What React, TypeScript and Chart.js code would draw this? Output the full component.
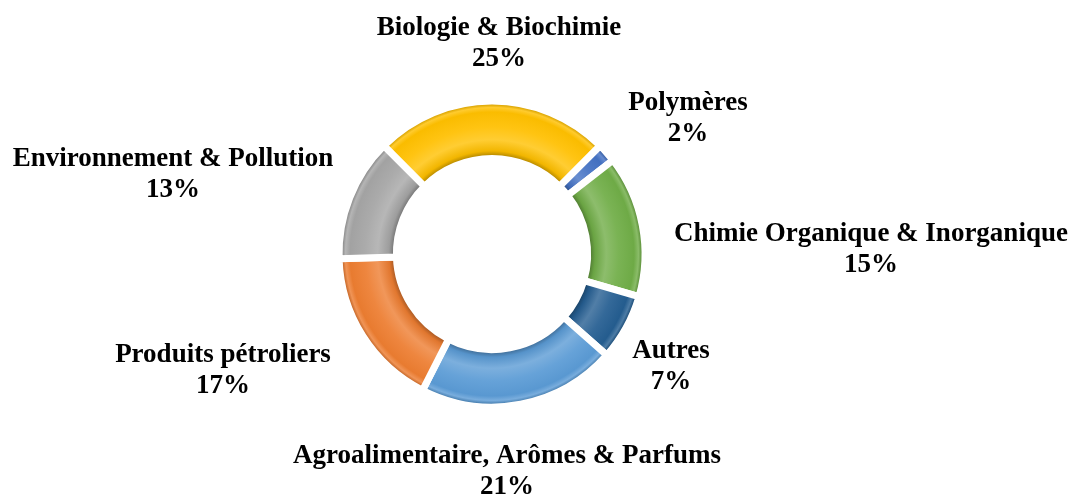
import React, { useEffect, useRef } from "react";
import { Chart, registerables } from "chart.js";

Chart.register(...registerables);

// ---- Data ----
const CATEGORIES = [
  "Biologie & Biochimie",
  "Polymères",
  "Chimie Organique & Inorganique",
  "Autres",
  "Agroalimentaire, Arômes & Parfums",
  "Produits pétroliers",
  "Environnement & Pollution",
];
const VALUES = [25, 2, 15, 7, 21, 17, 13];
const COLORS = ["#FFC000", "#4472C4", "#70AD47", "#255E91", "#5B9BD5", "#ED7D31", "#A5A5A5"];

// ---- Label layout (offsets from the doughnut centre, px) ----
const LABEL_OFFSETS: [number, number][] = [
  [7, -219],
  [196, -144],
  [379, -13],
  [179, 104],
  [15, 209],
  [-269, 108],
  [-319, -88],
];

const GAP = 7;

function hexToRgb(hex: string) {
  const n = parseInt(hex.slice(1), 16);
  return [(n >> 16) & 255, (n >> 8) & 255, n & 255];
}
function shade(hex: string, amt: number) {
  const [r, g, b] = hexToRgb(hex);
  const f = (c: number) =>
    Math.round(amt >= 0 ? c + (255 - c) * amt : c * (1 + amt));
  return `rgb(${f(r)},${f(g)},${f(b)})`;
}

const labelPlugin = {
  id: "outsideLabels",
  afterDraw(chart: any) {
    const meta = chart.getDatasetMeta(0);
    const ctx = chart.ctx;
    const first = meta.data[0];
    if (!first) return;
    const cx = first.x;
    const cy = first.y;
    ctx.save();
    ctx.fillStyle = "#000";
    ctx.font = 'bold 27px "Liberation Serif", "Times New Roman", serif';
    ctx.textAlign = "center";
    ctx.textBaseline = "alphabetic";
    CATEGORIES.forEach((cat, i) => {
      const [dx, dy] = LABEL_OFFSETS[i];
      ctx.fillText(cat, cx + dx, cy + dy);
      ctx.fillText(VALUES[i] + "%", cx + dx, cy + dy + 31);
    });
    ctx.restore();
  },
};

export default function App() {
  const ref = useRef<HTMLCanvasElement | null>(null);

  useEffect(() => {
    if (!ref.current) return;
    const chart = new Chart(ref.current, {
      type: "doughnut",
      data: {
        labels: CATEGORIES,
        datasets: [
          {
            data: VALUES,
            backgroundColor: (c: any) => {
              const base = COLORS[c.dataIndex];
              const chart = c.chart;
              const area = chart.chartArea;
              const ctrl = chart.getDatasetMeta(0).controller as any;
              if (!area || !ctrl || !ctrl.outerRadius) return base;
              const cx = (area.left + area.right) / 2;
              const cy = (area.top + area.bottom) / 2;
              const rIn = ctrl.innerRadius + GAP / 2;
              const rOut = ctrl.outerRadius - GAP / 2;
              const g = chart.ctx.createRadialGradient(cx, cy, rIn, cx, cy, rOut);
              g.addColorStop(0, shade(base, -0.25));
              g.addColorStop(0.08, shade(base, -0.05));
              g.addColorStop(0.3, shade(base, 0.2));
              g.addColorStop(0.55, shade(base, 0.07));
              g.addColorStop(0.85, shade(base, -0.02));
              g.addColorStop(0.94, shade(base, 0.18));
              g.addColorStop(1, shade(base, -0.15));
              return g;
            },
            borderColor: "#ffffff",
            borderWidth: GAP,
          },
        ],
      },
      options: {
        animation: false,
        responsive: true,
        maintainAspectRatio: false,
        rotation: -45,
        radius: 153,
        cutout: "62.5%",
        layout: { padding: { left: 0, right: 89, top: 11, bottom: 0 } },
        plugins: {
          legend: { display: false },
          tooltip: { enabled: false },
        },
      } as any,
      plugins: [labelPlugin],
    });
    return () => chart.destroy();
  }, []);

  return (
    <div
      style={{
        position: "absolute",
        left: 0,
        top: 0,
        width: 1073,
        height: 497,
        background: "#fff",
      }}
    >
      <canvas ref={ref} />
    </div>
  );
}
